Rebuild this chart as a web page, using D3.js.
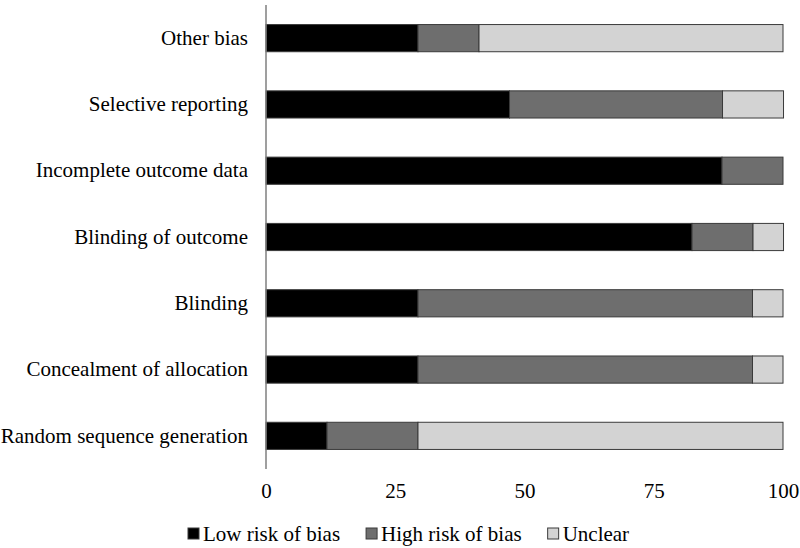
<!DOCTYPE html>
<html>
<head>
<meta charset="utf-8">
<script src="https://cdn.jsdelivr.net/npm/d3@7"></script>
<style>
  body { margin: 0; background: #fff; }
</style>
</head>
<body>
<svg id="chart" width="800" height="548"></svg>
<script>
// Categories, top to bottom
const categories = [
  "Other bias",
  "Selective reporting",
  "Incomplete outcome data",
  "Blinding of outcome",
  "Blinding",
  "Concealment of allocation",
  "Random sequence generation"
];
// Percent of studies
const lowRisk  = [29.4, 47.1, 88.2, 82.4, 29.4, 29.4, 11.8];
const highRisk = [11.8, 41.2, 11.8, 11.8, 64.7, 64.7, 17.6];
const unclear  = [58.8, 11.8,  0.0,  5.9,  5.9,  5.9, 70.6];
const seriesNames = ["Low risk of bias", "High risk of bias", "Unclear"];
const seriesColors = ["#000000", "#6e6e6e", "#d3d3d3"];
const tickValues = [0, 25, 50, 75, 100];

const FONT = "Liberation Serif";
const FS = "21px";

const svg = d3.select("#chart");
const x = d3.scaleLinear().domain([0, 100]).range([266, 783]);
const y = d3.scaleBand().domain(categories).range([5, 469]).paddingInner(0.59).paddingOuter(0.295);

const rows = categories.map((c, i) => ({ cat: c, v: [lowRisk[i], highRisk[i], unclear[i]] }));

// Bars
rows.forEach(r => {
  let acc = 0;
  r.v.forEach((val, j) => {
    if (val > 0) {
      svg.append("rect")
        .attr("x", x(acc))
        .attr("y", y(r.cat))
        .attr("width", x(acc + val) - x(acc))
        .attr("height", y.bandwidth())
        .attr("fill", seriesColors[j])
        .attr("stroke", "#3a3a3a")
        .attr("stroke-width", 1);
    }
    acc += val;
  });
});

// Vertical category axis line
svg.append("line")
  .attr("x1", x(0)).attr("x2", x(0))
  .attr("y1", 5).attr("y2", 469)
  .attr("stroke", "#7f7f7f").attr("stroke-width", 1.5);

// Category labels
const yAxis = d3.axisLeft(y).tickSize(0).tickPadding(18);
const yg = svg.append("g").attr("transform", `translate(${x(0)},0)`).call(yAxis);
yg.select(".domain").remove();
yg.selectAll("text")
  .style("font-family", FONT)
  .style("font-size", FS)
  .attr("fill", "#000");

// X tick labels
const xAxis = d3.axisBottom(x).tickValues(tickValues).tickSize(0).tickPadding(0);
const xg = svg.append("g").attr("transform", `translate(0,483)`).call(xAxis);
xg.select(".domain").remove();
xg.selectAll("text")
  .style("font-family", FONT)
  .style("font-size", FS)
  .attr("fill", "#000");

// Legend
const legend = svg.append("g");
let lx = 188;
const ly = 534;
seriesNames.forEach((name, j) => {
  legend.append("rect")
    .attr("x", lx).attr("y", ly - 6)
    .attr("width", 11).attr("height", 11)
    .attr("fill", seriesColors[j])
    .attr("stroke", "#3a3a3a").attr("stroke-width", 1);
  const t = legend.append("text")
    .attr("x", lx + 15).attr("y", ly)
    .attr("dy", "0.35em")
    .style("font-family", FONT)
    .style("font-size", FS)
    .attr("fill", "#000")
    .text(name);
  const w = t.node().getComputedTextLength();
  lx = lx + 15 + w + 26;
});
</script>
</body>
</html>
